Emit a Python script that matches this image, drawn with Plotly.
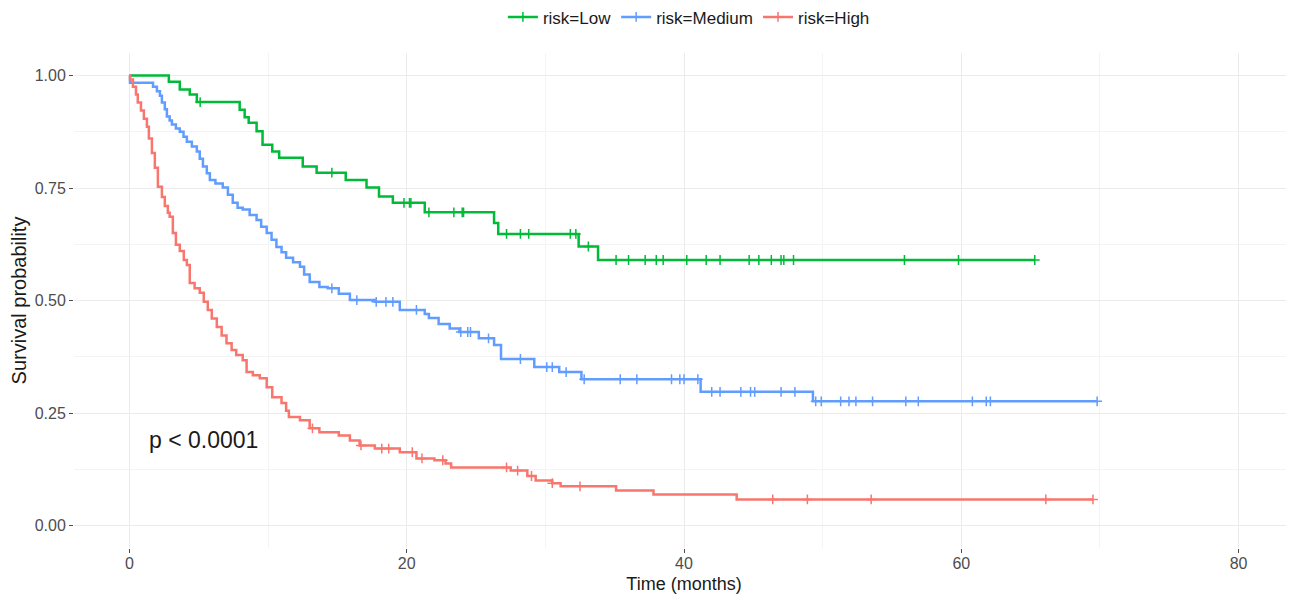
import numpy as np
import plotly.graph_objects as go

# ---- data ----
low_time = [0, 2.84, 3.63, 4.35, 4.86, 7.95, 8.31, 8.6, 9.17, 9.6, 10.3, 10.8, 12.5, 13.5,
            15.6, 17.1, 18.0, 19.0, 21.3, 26.3, 26.6, 32.4, 33.8]
low_surv = [1.0, 0.986, 0.969, 0.958, 0.941, 0.924, 0.907, 0.895, 0.876, 0.846, 0.831, 0.817,
            0.798, 0.784, 0.768, 0.751, 0.731, 0.717, 0.696, 0.672, 0.648, 0.620, 0.590]
low_censor = [5.1, 14.6, 19.8, 20.2, 20.3, 21.6, 23.4, 24.0, 24.1, 27.2, 28.2, 28.8, 31.8, 32.2,
              33.1, 35.1, 36.0, 37.2, 38.0, 38.5, 40.2, 41.6, 42.6, 44.7, 45.4, 46.3, 47.0, 47.2,
              47.9, 55.9, 59.8, 65.3]

med_time = [0, 0.04, 1.7, 1.98, 2.2, 2.34, 2.55, 2.7, 2.9, 3.06, 3.35, 3.63, 3.9, 4.14, 4.5,
            4.86, 5.07, 5.3, 5.58, 5.8, 6.2, 6.73, 7.1, 7.45, 7.8, 8.17, 8.67, 9.17, 9.5, 9.9,
            10.25, 10.6, 10.97, 11.3, 11.8, 12.3, 12.6, 13.0, 13.7, 14.3, 15.1, 15.9, 17.7,
            19.5, 21.3, 21.6, 22.3, 23.1, 23.8, 25.2, 26.3, 26.8, 29.2, 31.0, 32.6, 41.2, 49.3]
med_surv = [1.0, 0.984, 0.975, 0.965, 0.955, 0.940, 0.925, 0.909, 0.900, 0.891, 0.882, 0.875,
            0.864, 0.853, 0.842, 0.831, 0.815, 0.798, 0.783, 0.768, 0.760, 0.751, 0.735, 0.717,
            0.706, 0.702, 0.690, 0.679, 0.664, 0.650, 0.635, 0.619, 0.607, 0.595, 0.585, 0.575,
            0.558, 0.541, 0.530, 0.527, 0.515, 0.501, 0.497, 0.479, 0.470, 0.461, 0.448, 0.438,
            0.430, 0.416, 0.401, 0.370, 0.352, 0.341, 0.325, 0.297, 0.276]
med_censor = [14.6, 16.4, 17.8, 18.5, 19.0, 20.7, 23.9, 24.4, 24.6, 25.9, 28.2, 30.1, 30.5,
              31.5, 32.8, 35.4, 36.6, 39.1, 39.7, 40.0, 41.0, 42.0, 42.6, 44.1, 44.8, 45.1,
              47.0, 48.0, 49.5, 49.9, 51.3, 51.9, 52.4, 53.6, 56.0, 56.9, 60.8, 61.8, 62.1, 69.8]

high_time = [0, 0.04, 0.25, 0.47, 0.6, 0.83, 1.04, 1.26, 1.4, 1.62, 1.83, 2.05, 2.34, 2.55,
             2.77, 2.9, 3.13, 3.35, 3.63, 3.92, 4.14, 4.35, 4.7, 5.07, 5.36, 5.65, 5.94, 6.3,
             6.65, 7.0, 7.37, 7.7, 8.17, 8.45, 8.9, 9.4, 9.9, 10.3, 10.97, 11.3, 11.5, 12.3,
             13.0, 13.7, 15.1, 15.9, 16.6, 17.7, 19.5, 20.7, 22.0, 22.8, 23.2, 27.5, 28.7,
             29.3, 30.5, 31.1, 35.1, 37.8, 43.8]
high_surv = [1.0, 0.991, 0.975, 0.958, 0.940, 0.922, 0.904, 0.886, 0.860, 0.828, 0.795, 0.753,
             0.730, 0.710, 0.695, 0.686, 0.650, 0.624, 0.610, 0.590, 0.579, 0.539, 0.527, 0.517,
             0.497, 0.479, 0.460, 0.441, 0.422, 0.405, 0.390, 0.379, 0.367, 0.341, 0.334, 0.327,
             0.307, 0.285, 0.272, 0.255, 0.241, 0.234, 0.216, 0.207, 0.200, 0.189, 0.178, 0.171,
             0.163, 0.149, 0.145, 0.138, 0.129, 0.122, 0.110, 0.100, 0.094, 0.087, 0.078,
             0.069, 0.058]
high_censor = [13.2, 16.7, 18.2, 18.7, 20.4, 21.1, 22.6, 27.2, 28.0, 29.0, 30.5, 32.5, 46.4,
               48.9, 53.5, 66.1, 69.5]

group_names = ["risk=Low", "risk=Medium", "risk=High"]
group_colors = ["#00BA38", "#619CFF", "#F8766D"]
x_ticks = [0, 20, 40, 60, 80]
y_ticks = [0.0, 0.25, 0.5, 0.75, 1.0]
pval_text = "p < 0.0001"

groups = [(low_time, low_surv, low_censor), (med_time, med_surv, med_censor),
          (high_time, high_surv, high_censor)]

FONT = "Liberation Sans, Arial, sans-serif"
fig = go.Figure()

for (t, s, c), name, col in zip(groups, group_names, group_colors):
    t = np.array(t, float)
    s = np.array(s, float)
    c = np.array(c, float)
    end = max(t.max(), c.max())
    lx = np.append(t, end)
    ly = np.append(s, s[-1])
    idx = np.searchsorted(t, c, side="right") - 1
    cy = s[idx]
    fig.add_trace(go.Scatter(x=lx, y=ly, mode="lines", line=dict(color=col, width=2.5, shape="hv"),
                             showlegend=False, hoverinfo="skip"))
    fig.add_trace(go.Scatter(x=c, y=cy, mode="markers",
                             marker=dict(symbol="cross-thin", size=7, line=dict(color=col, width=1.5)),
                             showlegend=False, hoverinfo="skip"))
    fig.add_trace(go.Scatter(x=[None], y=[None], mode="lines+markers", name=name,
                             line=dict(color=col, width=2.5),
                             marker=dict(symbol="cross-thin", size=7, color=col,
                                         line=dict(color=col, width=1.5))))

fig.add_annotation(x=1.3, y=0.19, xref="x", yref="y", text=pval_text, showarrow=False,
                   xanchor="left", yanchor="middle",
                   font=dict(family=FONT, size=23, color="#1a1a1a"))

fig.update_layout(
    width=1286, height=592,
    margin=dict(l=66, r=0, t=45, b=52, autoexpand=False),
    paper_bgcolor="white", plot_bgcolor="white",
    legend=dict(orientation="h", x=0.504, xanchor="center", y=1.072, yanchor="middle",
                font=dict(family=FONT, size=17, color="#1a1a1a"), itemwidth=30,
                tracegroupgap=0, bgcolor="rgba(0,0,0,0)"),
    font=dict(family=FONT),
)
fig.update_xaxes(range=[-4, 84], tickvals=x_ticks, ticktext=[str(v) for v in x_ticks],
                 automargin=False,
                 showgrid=True, gridcolor="#EBEBEB", gridwidth=1, zeroline=False,
                 ticks="outside", ticklen=4, tickcolor="#4D4D4D", tickwidth=1,
                 ticklabelstandoff=-3,
                 tickfont=dict(family=FONT, size=16, color="#4D4D4D"),
                 minor=dict(dtick=10, tick0=0, showgrid=True, gridcolor="#F4F4F4", gridwidth=1, ticks=""),
                 title=dict(text="Time (months)", font=dict(family=FONT, size=18, color="#1a1a1a"),
                            standoff=6),
                 showline=False)
fig.update_yaxes(range=[-0.05, 1.05], tickvals=y_ticks, ticktext=[f"{v:.2f}" for v in y_ticks],
                 automargin=False,
                 showgrid=True, gridcolor="#EBEBEB", gridwidth=1, zeroline=False,
                 ticks="outside", ticklen=4, tickcolor="#4D4D4D", tickwidth=1,
                 tickfont=dict(family=FONT, size=16, color="#4D4D4D"),
                 minor=dict(dtick=0.125, tick0=0, showgrid=True, gridcolor="#F4F4F4", gridwidth=1, ticks=""),
                 title=dict(text="Survival probability",
                            font=dict(family=FONT, size=20, color="#1a1a1a"),
                            standoff=2),
                 showline=False)

fig.write_html("out.html")
